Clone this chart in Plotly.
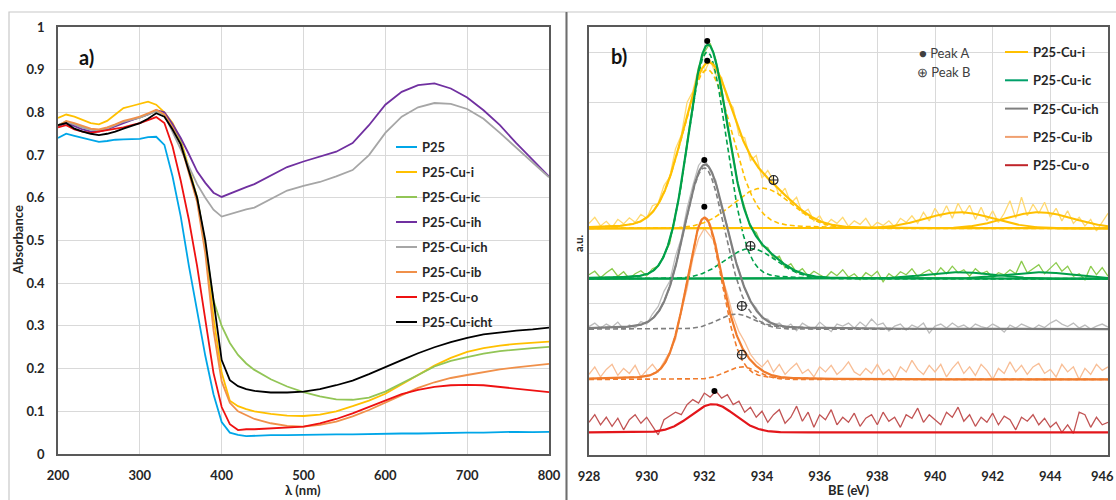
import numpy as np
import plotly.graph_objects as go

# ---------------- Panel a) : UV-Vis absorbance ----------------
WAVELENGTH = [200, 210, 220, 230, 240, 250, 260, 270, 280, 290, 300, 310, 320, 330, 340,
              350, 360, 370, 380, 390, 400, 410, 420, 430, 440,
              460, 480, 500, 520, 540, 560, 580, 600, 620, 640, 660, 680, 700, 720, 740,
              760, 780, 800]

ABS_P25 = [.740, .750, .745, .740, .735, .731, .733, .736, .737, .738, .738, .742, .743, .724, .650,
           .556, .440, .335, .230, .140, .075, .050, .045, .042, .043,
           .044, .044, .045, .045, .046, .046, .047, .047, .048, .048, .049, .049, .050, .050, .051,
           .052, .051, .052]
ABS_CU_I = [.787, .795, .790, .782, .775, .772, .780, .795, .810, .815, .820, .825, .818, .800, .775,
            .735, .670, .600, .490, .320, .190, .125, .112, .105, .100,
            .094, .090, .089, .092, .100, .112, .125, .141, .163, .185, .207, .225, .239, .248, .254,
            .258, .261, .263]
ABS_CU_IC = [.770, .778, .772, .765, .760, .758, .762, .770, .778, .783, .788, .795, .803, .795, .768,
             .730, .668, .600, .490, .360, .300, .260, .232, .212, .197,
             .175, .158, .145, .135, .128, .127, .132, .146, .165, .185, .205, .218, .227, .235, .241,
             .245, .248, .251]
ABS_CU_IH = [.768, .775, .768, .760, .755, .755, .760, .768, .775, .782, .788, .795, .805, .800, .772,
             .740, .702, .662, .635, .612, .602, .610, .618, .625, .632,
             .652, .672, .685, .696, .708, .728, .770, .818, .848, .864, .868, .856, .835, .805, .770,
             .728, .690, .650]
ABS_CU_ICH = [.770, .778, .772, .765, .760, .758, .762, .770, .778, .783, .788, .795, .803, .795, .755,
              .715, .672, .632, .600, .572, .556, .562, .568, .573, .577,
              .598, .617, .628, .637, .650, .665, .700, .752, .790, .812, .822, .820, .808, .785, .752,
              .718, .683, .648]
ABS_CU_IB = [.768, .780, .775, .768, .762, .760, .765, .772, .780, .785, .790, .798, .806, .795, .765,
             .725, .660, .590, .470, .290, .170, .120, .100, .090, .082,
             .072, .066, .064, .068, .076, .088, .103, .120, .138, .155, .168, .178, .185, .192, .198,
             .203, .207, .211]
ABS_CU_O = [.765, .770, .760, .755, .752, .755, .758, .762, .765, .770, .775, .782, .789, .775, .720,
            .640, .548, .440, .315, .190, .110, .070, .056, .058, .058,
            .060, .062, .064, .072, .082, .095, .110, .126, .140, .150, .157, .161, .162, .161, .157,
            .152, .148, .145]
ABS_CU_ICHT = [.770, .775, .762, .755, .750, .747, .750, .755, .762, .768, .775, .785, .798, .790, .760,
               .725, .665, .600, .500, .360, .220, .173, .159, .152, .148,
               .144, .144, .146, .152, .161, .172, .187, .204, .220, .236, .250, .262, .272, .280, .285,
               .289, .292, .296]

UV_NAMES = ["P25", "P25-Cu-i", "P25-Cu-ic", "P25-Cu-ih", "P25-Cu-ich", "P25-Cu-ib", "P25-Cu-o", "P25-Cu-icht"]
UV_SERIES = [ABS_P25, ABS_CU_I, ABS_CU_IC, ABS_CU_IH, ABS_CU_ICH, ABS_CU_IB, ABS_CU_O, ABS_CU_ICHT]
UV_COLORS = ["#00A6E8", "#FFC000", "#92C556", "#7030A0", "#A6A6A6", "#F0904A", "#EE1111", "#000000"]

# ---------------- Panel b) : Cu 2p XPS ----------------
XPS_NAMES = ["P25-Cu-i", "P25-Cu-ic", "P25-Cu-ich", "P25-Cu-ib", "P25-Cu-o"]
XPS_OFFSET = [4.5, 3.5, 2.5, 1.5, 0.45]
BE_TICKS = [928, 930, 932, 934, 936, 938, 940, 942, 944, 946]

BE_START, BE_STEP, BE_COUNT = 928.0, 0.2, 91

RAW_CU_I = [0.10, 0.22, 0.05, 0.14, 0.02, 0.18, 0.09, 0.21, 0.12, 0.28,
            0.20, 0.45, 0.50, 0.85, 1.02, 1.58, 1.85, 2.50, 2.72, 3.20,
            3.10, 3.35, 3.05, 3.00, 2.55, 2.40, 1.85, 1.80, 1.35, 1.45,
            1.00, 1.15, 0.95, 0.65, 0.80, 0.50, 0.62, 0.30, 0.38, 0.15,
            0.25, 0.05, 0.18, 0.10, 0.22, 0.04, 0.15, 0.08, 0.20, 0.02,
            0.12, 0.06, 0.15, 0.03, 0.20, 0.12, 0.25, 0.10, 0.32, 0.15,
            0.40, 0.22, 0.45, 0.20, 0.50, 0.28, 0.46, 0.18, 0.42, 0.15,
            0.35, 0.12, 0.30, 0.55, 0.20, 0.62, 0.25, 0.48, 0.30, 0.52,
            0.22, 0.40, 0.15, 0.35, 0.10, 0.22, 0.05, 0.18, -0.05, 0.12,
            0.30]
RAW_CU_IC = [0.08, 0.15, 0.02, 0.12, 0.20, 0.05, 0.14, 0.00, 0.10, 0.16,
             0.06, 0.20, 0.25, 0.48, 0.70, 1.30, 1.85, 2.72, 3.42, 4.20,
             4.50, 4.68, 4.35, 3.80, 3.00, 2.45, 1.75, 1.42, 1.00, 0.92,
             0.65, 0.62, 0.40, 0.45, 0.22, 0.30, 0.12, 0.20, 0.05, 0.15,
             0.08, 0.02, 0.14, 0.06, 0.18, 0.03, 0.10, -0.02, 0.12, 0.05,
             0.15, -0.06, 0.10, 0.02, 0.14, 0.08, 0.20, 0.04, 0.12, 0.18,
             0.06, 0.22, 0.10, 0.25, 0.12, 0.18, 0.05, 0.20, 0.10, 0.15,
             0.02, 0.12, 0.08, 0.18, 0.10, 0.35, 0.12, 0.20, 0.28, 0.10,
             0.22, 0.32, 0.15, 0.25, 0.05, 0.10, -0.02, 0.25, 0.08, 0.22,
             0.05]
RAW_CU_ICH = [0.05, 0.12, 0.02, 0.10, 0.04, 0.14, 0.00, 0.08, 0.03, 0.15,
              0.10, 0.30, 0.45, 0.75, 0.95, 1.45, 1.80, 2.40, 2.85, 3.25,
              3.40, 3.15, 2.95, 2.40, 2.05, 1.50, 1.18, 0.80, 0.55, 0.42,
              0.22, 0.20, 0.08, 0.12, 0.02, 0.10, -0.03, 0.12, 0.05, 0.00,
              0.14, 0.04, -0.05, 0.10, 0.06, 0.12, 0.02, 0.14, 0.05, 0.20,
              0.08, 0.12, -0.04, 0.06, 0.10, -0.02, 0.08, 0.03, 0.12, -0.08,
              0.06, 0.10, 0.02, 0.12, 0.04, 0.08, 0.00, 0.10, 0.05, 0.02,
              0.10, 0.04, -0.06, 0.08, 0.02, 0.10, 0.05, 0.00, 0.08, 0.03,
              0.12, 0.18, 0.10, 0.05, 0.12, 0.02, 0.08, 0.00, 0.06, 0.10,
              0.04]
RAW_CU_IB = [0.10, 0.25, 0.05, 0.20, 0.30, 0.08, 0.22, 0.12, 0.28, 0.05,
             0.18, 0.30, 0.15, 0.35, 0.55, 0.80, 1.35, 1.80, 2.40, 2.80,
             3.00, 2.85, 2.70, 2.05, 1.70, 1.25, 0.95, 0.75, 0.50, 0.35,
             0.25, 0.38, 0.15, 0.30, 0.10, 0.22, 0.32, 0.12, 0.20, 0.05,
             0.25, 0.15, 0.28, 0.10, 0.20, 0.35, 0.15, 0.08, 0.22, 0.12,
             0.30, 0.10, 0.20, 0.02, 0.25, 0.15, 0.38, 0.20, 0.10, 0.28,
             0.15, 0.30, 0.05, 0.22, 0.35, 0.12, 0.25, 0.08, 0.30, 0.18,
             0.00, 0.22, 0.12, 0.35, 0.15, 0.28, 0.10, 0.25, 0.32, 0.12,
             0.20, 0.05, 0.30, 0.15, 0.25, 0.00, 0.22, 0.10, 0.30, 0.18,
             0.25]
RAW_CU_O = [0.20, 0.35, 0.15, 0.30, 0.12, 0.28, 0.05, 0.25, 0.35, 0.18,
            0.30, 0.12, -0.05, 0.25, 0.32, 0.40, 0.35, 0.55, 0.65, 0.58,
            0.78, 0.70, 0.82, 0.68, 0.75, 0.55, 0.62, 0.40, 0.50, 0.30,
            0.42, 0.20, 0.35, 0.45, 0.18, 0.30, 0.52, 0.22, 0.40, 0.10,
            0.35, 0.25, 0.45, 0.15, 0.30, 0.20, 0.38, 0.12, 0.28, 0.35,
            0.15, 0.40, 0.22, 0.30, 0.10, 0.35, 0.28, 0.48, 0.20, 0.35,
            0.25, 0.15, 0.40, 0.30, 0.50, 0.22, 0.35, 0.12, 0.30, 0.20,
            0.38, 0.15, 0.32, 0.25, 0.05, 0.30, 0.22, 0.35, 0.15, 0.28,
            0.10, 0.20, 0.00, 0.15, -0.02, 0.40, 0.35, 0.10, 0.30, 0.15,
            0.20]
XPS_RAW = [RAW_CU_I, RAW_CU_IC, RAW_CU_ICH, RAW_CU_IB, RAW_CU_O]

# Peak-fit parameters (centre eV, height, FWHM eV, Lorentzian fraction)
PEAK_A_CENTER = [932.1, 932.1, 932.0, 932.0, 932.3]
PEAK_A_HEIGHT = [3.15, 4.50, 3.20, 3.20, 0.56]
PEAK_A_FWHM = [2.0, 1.6, 1.7, 1.44, 1.8]
PEAK_A_ETA = [0.15, 0.10, 0.15, 0.15, 0.0]
PEAK_B_CENTER = [934.0, 933.6, 933.1, 933.3, None]
PEAK_B_HEIGHT = [0.80, 0.60, 0.30, 0.25, None]
PEAK_B_FWHM = [2.4, 2.1, 1.5, 1.3, None]
SAT_CENTER = [940.85, 943.6]
SAT_HEIGHT = [0.32, 0.13, None, None, None]
SAT_FWHM = 2.8

# Peak labels (BE, intensity above baseline)
MARK_A_BE = [932.1, 932.1, 932.0, 932.0, 932.35]
MARK_A_INT = [3.33, 4.72, 3.36, 3.43, 0.82]
MARK_B_BE = [934.4, 933.6, 933.3, 933.3]
MARK_B_INT = [0.96, 0.65, 0.46, 0.49]

FIT_COLORS = ["#FFC000", "#00A04A", "#7F7F7F", "#F07B2C", "#E3161B"]
RAW_COLORS = ["#FFD970", "#8CCB4E", "#BDBDBD", "#F8BE96", "#C25454"]
LEGEND_COLORS = ["#FFC000", "#00A06A", "#7F7F7F", "#F0A070", "#C0242A"]

W, H = 1116, 500
FONT = "Lato"
TXT = "#262626"


def px(x):
    return x / W


def py(y):
    return 1 - y / H


def pseudo_voigt(x, c, h, fwhm, eta=0.0):
    u = (x - c) / (fwhm / 2.0)
    return h * ((1 - eta) * np.exp(-np.log(2) * u ** 2) + eta / (1 + u ** 2))


fig = go.Figure()

# --- panel a traces
for name, vals, col in zip(UV_NAMES, UV_SERIES, UV_COLORS):
    fig.add_trace(go.Scatter(x=WAVELENGTH, y=vals, mode="lines", name=name,
                             line=dict(color=col, width=1.8), xaxis="x", yaxis="y",
                             showlegend=False))

# --- panel b traces
be_raw = BE_START + BE_STEP * np.arange(BE_COUNT)
be_fit = np.linspace(928, 946, 901)

for k in range(len(XPS_NAMES)):
    fig.add_trace(go.Scatter(x=be_raw, y=np.array(XPS_RAW[k]) + XPS_OFFSET[k], mode="lines",
                             line=dict(color=RAW_COLORS[k], width=1.3), xaxis="x2", yaxis="y2",
                             showlegend=False, hoverinfo="skip"))

fits = []
for k in range(len(XPS_NAMES)):
    off = XPS_OFFSET[k]
    comp_a = pseudo_voigt(be_fit, PEAK_A_CENTER[k], PEAK_A_HEIGHT[k], PEAK_A_FWHM[k], PEAK_A_ETA[k])
    total = comp_a.copy()
    if PEAK_B_CENTER[k] is not None:
        comp_b = pseudo_voigt(be_fit, PEAK_B_CENTER[k], PEAK_B_HEIGHT[k], PEAK_B_FWHM[k])
        total = total + comp_b
        for comp in (comp_a, comp_b):
            fig.add_trace(go.Scatter(x=be_fit, y=comp + off, mode="lines",
                                     line=dict(color=FIT_COLORS[k], width=1.6, dash="5px,3px"),
                                     xaxis="x2", yaxis="y2", showlegend=False, hoverinfo="skip"))
    fits.append((k, total))

for k, total in fits:
    off = XPS_OFFSET[k]
    fig.add_trace(go.Scatter(x=be_fit, y=total + off, mode="lines", name=XPS_NAMES[k],
                             line=dict(color=FIT_COLORS[k], width=2.2), xaxis="x2", yaxis="y2",
                             showlegend=False))
    if SAT_HEIGHT[k] is not None:
        for c in SAT_CENTER:
            sat = pseudo_voigt(be_fit, c, SAT_HEIGHT[k], SAT_FWHM)
            fig.add_trace(go.Scatter(x=be_fit, y=sat + off, mode="lines",
                                     line=dict(color=FIT_COLORS[k], width=2.0),
                                     xaxis="x2", yaxis="y2", showlegend=False, hoverinfo="skip"))

fig.add_trace(go.Scatter(x=MARK_A_BE, y=[v + o for v, o in zip(MARK_A_INT, XPS_OFFSET)],
                         mode="markers", marker=dict(color="black", size=6),
                         xaxis="x2", yaxis="y2", showlegend=False, name="Peak A"))
fig.add_trace(go.Scatter(x=MARK_B_BE, y=[v + o for v, o in zip(MARK_B_INT, XPS_OFFSET)],
                         mode="markers",
                         marker=dict(symbol="circle-cross-open", color="#222222", size=9,
                                     line=dict(width=1.1, color="#222222")),
                         xaxis="x2", yaxis="y2", showlegend=False, name="Peak B"))

# --- axes
tickfont = dict(family=FONT, size=13, color=TXT, weight="bold")
common = dict(showgrid=True, gridcolor="#D9D9D9", gridwidth=1, showline=True,
              linecolor="#595959", linewidth=1.5, mirror=True, zeroline=False,
              ticks="outside", ticklen=9, tickcolor="rgba(0,0,0,0)", tickfont=tickfont,
              automargin=False, ticklabeloverflow="allow")

shapes = []
annotations = []

# outer frames of both panels
shapes.append(dict(type="rect", xref="paper", yref="paper", x0=px(9), x1=px(566), y0=py(520), y1=py(12),
                   line=dict(color="#C8C8C8", width=1.2), layer="below"))
shapes.append(dict(type="rect", xref="paper", yref="paper", x0=px(567), x1=px(1130), y0=py(520), y1=py(12),
                   line=dict(color="#C8C8C8", width=1.2), layer="below"))
shapes.append(dict(type="line", xref="paper", yref="paper", x0=px(566.5), x1=px(566.5), y0=py(520), y1=py(12),
                   line=dict(color="#6E6E6E", width=1.8)))


def label(x, y, text, size=13, bold=True, angle=0, anchor="center", color=TXT):
    return dict(xref="paper", yref="paper", x=px(x), y=py(y), text=text, showarrow=False,
                xanchor=anchor, yanchor="middle", textangle=angle,
                font=dict(family=FONT, size=size, color=color, weight="bold" if bold else "normal"))


# legend of panel a
for i, (name, col) in enumerate(zip(UV_NAMES, UV_COLORS)):
    y = 147 + 25 * i
    shapes.append(dict(type="line", xref="paper", yref="paper", x0=px(396), x1=px(417), y0=py(y), y1=py(y),
                       line=dict(color=col, width=2)))
    annotations.append(label(420, y, name, anchor="left"))

# legend of panel b
for i, (name, col) in enumerate(zip(XPS_NAMES, LEGEND_COLORS)):
    y = 52 + 28.3 * i
    shapes.append(dict(type="line", xref="paper", yref="paper", x0=px(1005), x1=px(1028), y0=py(y), y1=py(y),
                       line=dict(color=col, width=2)))
    annotations.append(label(1031, y, name, anchor="left"))
annotations.append(label(917, 53, "● Peak A", size=13, bold=False, anchor="left", color="#404040"))
annotations.append(label(915, 72, "⊕ Peak B", size=13, bold=False, anchor="left", color="#404040"))

# last BE tick label sits at the page edge: keep it right-aligned inside the page
annotations.append(dict(xref="paper", yref="paper", x=1.0, y=py(476), text=str(BE_TICKS[-1]),
                        showarrow=False, xanchor="right", yanchor="middle",
                        font=dict(family=FONT, size=13, color=TXT, weight="bold")))

# panel labels and axis titles
annotations += [
    label(86, 57, "a)", size=20, color="#111111"),
    label(619, 56, "b)", size=20, color="#111111"),
    label(18, 240, "Absorbance", size=13, angle=-90),
    label(303, 490, "λ (nm)", size=13),
    label(848, 490, "BE (eV)", size=13),
    label(578, 243, "a.u.", size=11, angle=-90),
]

fig.update_layout(
    width=W, height=H, margin=dict(l=0, r=0, t=0, b=0, autoexpand=False),
    paper_bgcolor="white", plot_bgcolor="white", showlegend=False,
    xaxis=dict(domain=[px(58), px(549)], range=[200, 800], dtick=100, anchor="y", **common),
    yaxis=dict(domain=[py(454), py(27)], range=[0, 1], dtick=0.1, anchor="x", **common),
    xaxis2=dict(domain=[px(589), px(1108)], range=[928, 946], anchor="y2",
                tickvals=BE_TICKS, ticktext=[str(t) for t in BE_TICKS[:-1]] + [""], **common),
    yaxis2=dict(domain=[py(455), py(27)], range=[0, 8.5], dtick=1, anchor="x2",
                showticklabels=False, **{k: v for k, v in common.items() if k not in ("ticks", "ticklen", "tickcolor")}),
    shapes=shapes, annotations=annotations,
)

fig.write_html("out.html")
